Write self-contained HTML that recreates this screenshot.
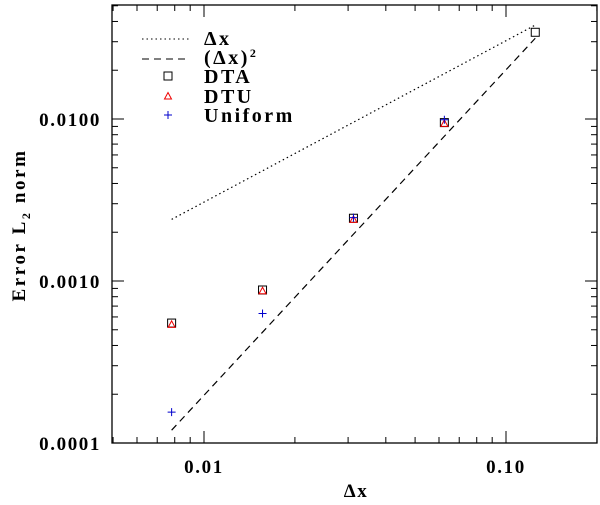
<!DOCTYPE html>
<html><head><meta charset="utf-8"><style>
body{margin:0;background:#fff;}
svg text{font-family:"Liberation Serif",serif;font-weight:bold;fill:#000;letter-spacing:1.6px;}
</style></head><body>
<svg id="chart" width="600" height="500" xmlns="http://www.w3.org/2000/svg"></svg>
<script>
const dxValues=[0.0078125,0.015625,0.03125,0.0625,0.125];
const dtaValues=[0.00055,0.00088,0.00244,0.0095,0.0343];
const dtuValues=[0.00054,0.00087,0.0024,0.0094];
const uniformValues=[0.000155,0.00063,0.00246,0.0099];
const linearRef=[0.0024,0.038];
const quadRef=[0.00012,0.0315];
const xTickValues=[0.01,0.1];
const xTickLabels=["0.01","0.10"];
const yTickValues=[0.0001,0.001,0.01];
const yTickLabels=["0.0001","0.0010","0.0100"];

const L=112,R=597,T=5,B=443;
const X=v=>204+302*Math.log10(v/0.01);
const Y=v=>119-162*Math.log10(v/0.01);
const svg=document.getElementById('chart');
const NS="http://www.w3.org/2000/svg";
function mk(tag,attrs,parent){const e=document.createElementNS(NS,tag);for(const k in attrs)e.setAttribute(k,attrs[k]);(parent||svg).appendChild(e);return e;}

const frame=mk('rect',{x:L,y:T,width:R-L,height:B-T,fill:'none',stroke:'#000','stroke-width':1.3});



for(let d=-3;d<=-1;d++){for(let m=1;m<=9;m++){const v=m*Math.pow(10,d);if(v<0.005||v>0.2)continue;const x=X(v);const len=m===1?12:6;
const t1=mk('line',{x1:x,y1:B,x2:x,y2:B-len,stroke:'#000','stroke-width':1});


const t2=mk('line',{x1:x,y1:T,x2:x,y2:T+len,stroke:'#000','stroke-width':1});

}}
for(let d=-4;d<=-2;d++){for(let m=1;m<=9;m++){const v=m*Math.pow(10,d);const y=Y(v);if(y<T-0.5||y>B+0.5)continue;const len=m===1?12:6;
const t1=mk('line',{x1:L,y1:y,x2:L+len,y2:y,stroke:'#000','stroke-width':1});


const t2=mk('line',{x1:R,y1:y,x2:R-len,y2:y,stroke:'#000','stroke-width':1});

}}
xTickValues.forEach((v,i)=>{const t=mk('text',{x:X(v),y:473,'text-anchor':'middle','font-size':19});t.textContent=xTickLabels[i];

});
yTickValues.forEach((v,i)=>{const t=mk('text',{x:101,y:Y(v)+7,'text-anchor':'end','font-size':19});t.textContent=yTickLabels[i];

});
const xt=mk('text',{x:356,y:497,'text-anchor':'middle','font-size':19});xt.textContent='Δx';


const yt=mk('text',{x:0,y:0,'text-anchor':'middle','font-size':19,transform:'translate(25,225) rotate(-90)',style:'letter-spacing:2.6px'});
yt.innerHTML='Error L<tspan font-size="12" dy="5">2</tspan><tspan dy="-5"> norm</tspan>';



const l1=mk('line',{x1:X(dxValues[0]),y1:Y(linearRef[0]),x2:X(dxValues[4]),y2:Y(linearRef[1]),stroke:'#000','stroke-width':1.2,'stroke-dasharray':'1.5,3'});


const l2=mk('line',{x1:X(dxValues[0]),y1:Y(quadRef[0]),x2:X(dxValues[4]),y2:Y(quadRef[1]),stroke:'#000','stroke-width':1.2,'stroke-dasharray':'7,5'});



function square(x,y,name){const e=mk('rect',{x:x-4,y:y-4,width:8,height:8,fill:'none',stroke:'#000','stroke-width':1});

}
function tri(x,y,name){const e=mk('polygon',{points:`${x},${y-3.5} ${x+3.5},${y+3} ${x-3.5},${y+3}`,fill:'none',stroke:'#e00','stroke-width':1});

}
function plus(x,y,name){const e=mk('path',{d:`M${x-4},${y}H${x+4}M${x},${y-4}V${y+4}`,stroke:'#00c','stroke-width':1,fill:'none'});

}
dtaValues.forEach((v,i)=>square(X(dxValues[i]),Y(v),'dta-point'));
dtuValues.forEach((v,i)=>tri(X(dxValues[i]),Y(v),'dtu-point'));
uniformValues.forEach((v,i)=>plus(X(dxValues[i]),Y(v),'uniform-point'));

const lg=mk('g',{});


const rows=[38,57,76,96,115];
const labels=['Δx','(Δx)<tspan font-size="12" dy="-7">2</tspan>','DTA','DTU','Uniform'];
const a=mk('line',{x1:142,y1:rows[0]+1,x2:190,y2:rows[0]+1,stroke:'#000','stroke-dasharray':'1.5,3'},lg);


const b=mk('line',{x1:142,y1:rows[1]+2,x2:190,y2:rows[1]+2,stroke:'#000','stroke-dasharray':'7,5'},lg);


square(168,rows[2],'legend-dta-swatch');tri(168,rows[3],'legend-dtu-swatch');plus(168,rows[4],'legend-uniform-swatch');
labels.forEach((s,i)=>{const t=mk('text',{x:204,y:rows[i]+7,'font-size':20,style:'letter-spacing:2.5px'},lg);t.innerHTML=s;

});
</script>
</body></html>
